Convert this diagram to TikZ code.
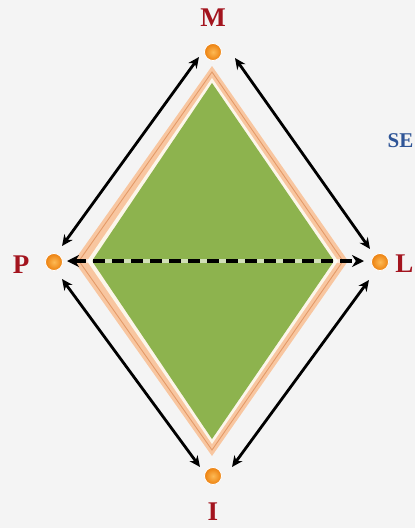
\documentclass[tikz,border=0pt]{standalone}
\usepackage{fontspec}
\setmainfont{Liberation Serif}
\usetikzlibrary{arrows.meta}
\definecolor{bgc}{HTML}{F4F4F4}
\definecolor{peach}{HTML}{F8C6A0}
\definecolor{peachline}{HTML}{E49A68}
\definecolor{creamc}{HTML}{FCF6EA}
\definecolor{leaf}{HTML}{8DB34E}
\definecolor{dotin}{HTML}{FDBA55}
\definecolor{dotout}{HTML}{EC800E}
\definecolor{lblred}{HTML}{A3141E}
\definecolor{seblue}{HTML}{2F5597}
\tikzset{
  dot/.style={circle,inner sep=0pt,minimum size=17pt,inner color=dotin,outer color=dotout,draw=white,line width=0.8pt},
  lbl/.style={text=lblred,font=\bfseries\fontsize{27}{27}\selectfont,inner sep=0pt},
  link/.style={line width=2.8pt,black,{Stealth[length=11pt,width=10pt]}-{Stealth[length=11pt,width=10pt]}},
  midlink/.style={line width=4.2pt,black,dash pattern=on 12pt off 7pt,{Stealth[length=12pt,width=12pt]}-{Stealth[length=12pt,width=12pt]}}
}
\begin{document}
\begin{tikzpicture}[x=1pt,y=-1pt]
\fill[bgc] (0,0) rectangle (415,528);
\useasboundingbox (0,0) rectangle (415,528);
% diamond layers
\fill[peach] (212,66) -- (348,261) -- (212,456) -- (74,261) -- cycle;
\draw[peachline,line width=0.9pt] (212,72) -- (343,261) -- (212,450) -- (79,261) -- cycle;
\fill[creamc] (212,78) -- (338,261) -- (212,444) -- (87,261) -- cycle;
\fill[leaf] (212,83) -- (334,261) -- (212,439) -- (92,261) -- cycle;
% dots
\node[dot] (M) at (213,52) {};
\node[dot] (P) at (54,262) {};
\node[dot] (L) at (380,262) {};
\node[dot] (I) at (213,476) {};
% labels
\node[lbl] (lM) at (213,18) {M};
\node[lbl] (lP) at (21,265) {P};
\node[lbl,anchor=east] (lL) at (413.5,264) {L};
\node[lbl] (lI) at (213,512) {I};
\node[text=seblue,font=\bfseries\fontsize{21}{21}\selectfont,inner sep=0pt,anchor=east] (se) at (413.5,141) {SE};
% connector end points
\coordinate (mp1) at (199,57);
\coordinate (mp2) at (62,246);
\coordinate (ml1) at (235,58);
\coordinate (ml2) at (370,249);
\coordinate (pi1) at (62,279);
\coordinate (pi2) at (200,467);
\coordinate (li1) at (369,280);
\coordinate (li2) at (232,467);
\coordinate (d1) at (67,261);
\coordinate (d2) at (364,261);
\draw[link] (mp1) -- (mp2);
\draw[link] (ml1) -- (ml2);
\draw[link] (pi1) -- (pi2);
\draw[link] (li1) -- (li2);
\draw[white,opacity=0.6,line width=4.5pt,shorten <=8pt,shorten >=8pt] (d1) -- (d2);
\draw[midlink] (d1) -- (d2);
\end{tikzpicture}
\end{document}
